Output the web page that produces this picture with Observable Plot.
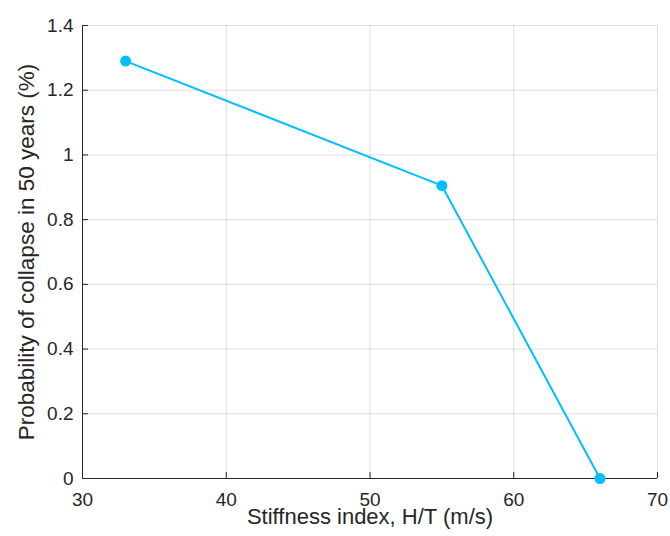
<!DOCTYPE html>
<html>
<head>
<meta charset="utf-8">
<script src="https://cdn.jsdelivr.net/npm/d3@7"></script>
<script src="https://cdn.jsdelivr.net/npm/@observablehq/plot@0.6"></script>
<style>
  html, body { margin: 0; padding: 0; background: #ffffff; }
</style>
</head>
<body>
<div id="chart"></div>
<script>
// Collapse probability versus building stiffness index
const stiffness = [33, 55, 66];          // H/T (m/s)
const collapseProb = [1.29, 0.905, 0];   // probability of collapse in 50 years (%)

const xTicks = [30, 40, 50, 60, 70];
const yTicks = [0, 0.2, 0.4, 0.6, 0.8, 1, 1.2, 1.4];

const xLabel = "Stiffness index, H/T (m/s)";
const yLabel = "Probability of collapse in 50 years (%)";

const W = 670, H = 536;
const mL = 82, mR = 13, mT = 25, mB = 58;
const innerW = W - mL - mR, innerH = H - mT - mB;
const tickLen = 6;
const ink = "#262626";
const lineColor = "#00bfff";

const rows = stiffness.map((s, i) => ({s, p: collapseProb[i]}));

const chart = Plot.plot({
  width: W,
  height: H,
  marginLeft: mL,
  marginRight: mR,
  marginTop: mT,
  marginBottom: mB,
  style: {color: ink, fontFamily: "'Liberation Sans', Arial, Helvetica, sans-serif", background: "#ffffff"},
  x: {domain: [30, 70]},
  y: {domain: [0, 1.4]},
  marks: [
    // light grid
    Plot.ruleX(xTicks, {stroke: ink, strokeOpacity: 0.15}),
    Plot.ruleY(yTicks, {stroke: ink, strokeOpacity: 0.15}),
    // axis lines (left and bottom only)
    Plot.ruleX([xTicks[0]], {stroke: ink, strokeWidth: 1}),
    Plot.ruleY([yTicks[0]], {stroke: ink, strokeWidth: 1}),
    // inward tick marks
    Plot.ruleX(xTicks, {stroke: ink, insetTop: innerH - tickLen}),
    Plot.ruleY(yTicks, {stroke: ink, insetRight: innerW - tickLen}),
    // tick labels
    Plot.axisX(xTicks, {tickSize: 0, tickPadding: 14, fontSize: 19, label: null, tickFormat: d => String(d)}),
    Plot.axisY(yTicks, {tickSize: 0, tickPadding: 9, fontSize: 19, label: null, tickFormat: d => String(d)}),
    // axis titles
    Plot.text([xLabel], {frameAnchor: "bottom", textAnchor: "middle", lineAnchor: "bottom", dy: 45, fontSize: 22, fill: ink}),
    Plot.text([yLabel], {frameAnchor: "left", textAnchor: "middle", lineAnchor: "bottom", rotate: -90, dx: -49, fontSize: 22.5, fill: ink}),
    // data series
    Plot.line(rows, {x: "s", y: "p", stroke: lineColor, strokeWidth: 2}),
    Plot.dot(rows, {x: "s", y: "p", r: 5.5, fill: lineColor, stroke: "none"})
  ]
});

document.getElementById("chart").appendChild(chart);
</script>
</body>
</html>
